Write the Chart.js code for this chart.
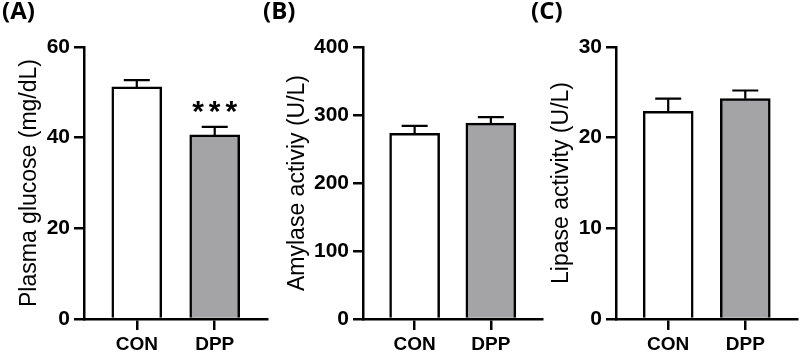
<!DOCTYPE html>
<html>
<head>
<meta charset="utf-8">
<script src="https://cdn.jsdelivr.net/npm/chart.js@4/dist/chart.umd.min.js"></script>
<style>
  body { margin: 0; background: #fff; }
  #wrap { position: relative; width: 800px; height: 354px; overflow: hidden; }
  canvas { position: absolute; top: 0; }
</style>
</head>
<body>
<div id="wrap">
  <canvas id="chartA" width="270" height="354" style="left:0px"></canvas>
  <canvas id="chartB" width="290" height="354" style="left:255px"></canvas>
  <canvas id="chartC" width="275" height="354" style="left:525px"></canvas>
</div>
<script>
// groups on the x axis
var groups = ['CON', 'DPP'];

// (A) plasma glucose, mg/dL
var glucose = [51.2, 40.6];
var glucoseSem = [1.5, 1.8];
var glucoseTicks = [0, 20, 40, 60];

// (B) amylase, U/L
var amylase = [273, 288];
var amylaseSem = [11, 9];
var amylaseTicks = [0, 100, 200, 300, 400];

// (C) lipase, U/L
var lipase = [22.9, 24.3];
var lipaseSem = [1.4, 0.9];
var lipaseTicks = [0, 10, 20, 30];

// significance marks, one per group ('' = none)
var glucoseSig = ['', '***'];

var fills = ['#ffffff', '#a4a4a7'];

// upper error bar + cap, drawn through the chart's scales
var errorBars = {
  id: 'errorBars',
  afterDatasetsDraw: function(chart) {
    var o = chart.options.plugins.errorBars;
    var ctx = chart.ctx, xs = chart.scales.x, ys = chart.scales.y;
    ctx.save();
    ctx.strokeStyle = '#000';
    ctx.lineWidth = 2.2;
    for (var i = 0; i < o.mean.length; i++) {
      var x = xs.getPixelForValue(i + 1);
      var y0 = ys.getPixelForValue(o.mean[i]);
      var y1 = ys.getPixelForValue(o.mean[i] + o.sem[i]);
      ctx.beginPath();
      ctx.moveTo(x, y0); ctx.lineTo(x, y1);
      ctx.moveTo(x - 13, y1); ctx.lineTo(x + 13, y1);
      ctx.stroke();
      if (o.sig && o.sig[i]) {
        ctx.font = 'bold 30px "Liberation Sans", Arial, sans-serif';
        ctx.letterSpacing = '5px';
        ctx.fillStyle = '#000';
        ctx.textAlign = 'center';
        var m = ctx.measureText(o.sig[i]);
        var cy = y1 - 20;
        ctx.fillText(o.sig[i], x + 2.5, cy + (m.actualBoundingBoxAscent - m.actualBoundingBoxDescent) / 2);
      }
    }
    ctx.restore();
  }
};

// panel letter in the top left corner
var panelLabel = {
  id: 'panelLabel',
  afterDraw: function(chart) {
    var o = chart.options.plugins.panelLabel;
    var ctx = chart.ctx;
    ctx.save();
    ctx.font = 'bold 24px "Open Sans", sans-serif';
    ctx.fillStyle = '#000';
    ctx.textBaseline = 'top';
    ctx.fillText(o.text, o.x, 0);
    ctx.restore();
  }
};

function makeChart(id, letter, labelX, vals, sem, ticks, title, axisW, titlePad, sig) {
  var step = ticks[1] - ticks[0];
  return new Chart(document.getElementById(id), {
    type: 'bar',
    data: {
      datasets: [{
        data: groups.map(function(g, i) { return { x: i + 1, y: vals[i] }; }),
        backgroundColor: fills,
        borderColor: '#000',
        borderWidth: 2.5,
        barThickness: 50
      }]
    },
    options: {
      responsive: false,
      animation: false,
      layout: { padding: { left: 0, right: 3, top: 47, bottom: 0 } },
      plugins: {
        legend: { display: false },
        tooltip: { enabled: false },
        errorBars: { mean: vals, sem: sem, sig: sig },
        panelLabel: { text: letter, x: labelX }
      },
      scales: {
        x: {
          type: 'linear',
          offset: false,
          min: 0.3226,
          max: 2.671,
          afterBuildTicks: function(s) { s.ticks = groups.map(function(g, i) { return { value: i + 1 }; }); },
          afterFit: function(s) { s.height = 35; },
          border: { display: true, color: '#000', width: 2.5 },
          grid: { offset: false, drawOnChartArea: false, color: '#000', lineWidth: 2.5, tickLength: 11 },
          ticks: {
            color: '#000',
            padding: 3,
            font: { family: '"Liberation Sans", Arial, sans-serif', size: 19, weight: 'bold' },
            callback: function(v) { return groups[v - 1]; }
          }
        },
        y: {
          min: ticks[0],
          max: ticks[ticks.length - 1],
          afterFit: function(s) { s.width = axisW; },
          border: { display: true, color: '#000', width: 2.5 },
          grid: { drawOnChartArea: false, color: '#000', lineWidth: 2.5, tickLength: 10 },
          ticks: {
            stepSize: step,
            color: '#000',
            padding: 4,
            font: { family: '"Liberation Sans", Arial, sans-serif', size: 21, weight: 'bold' }
          },
          title: {
            display: true,
            text: title,
            color: '#000',
            padding: { top: titlePad, bottom: 0 },
            font: { family: '"Liberation Sans", Arial, sans-serif', size: 23, weight: 'normal' }
          }
        }
      }
    },
    plugins: [errorBars, panelLabel]
  });
}

makeChart('chartA', '(A)', 2, glucose, glucoseSem, glucoseTicks, 'Plasma glucose (mg/dL)', 84, 16, glucoseSig);
makeChart('chartB', '(B)', 8, amylase, amylaseSem, amylaseTicks, 'Amylase activiy (U/L)', 108, 29, null);
makeChart('chartC', '(C)', 6, lipase, lipaseSem, lipaseTicks, 'Lipase activity (U/L)', 91, 23, null);
</script>
</body>
</html>
